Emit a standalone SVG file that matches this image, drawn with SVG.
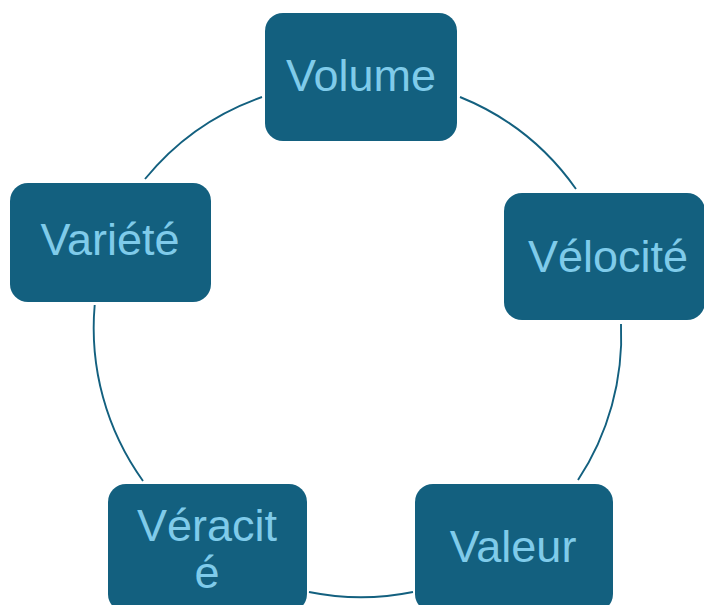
<svg xmlns="http://www.w3.org/2000/svg" width="704" height="605" viewBox="0 0 704 605">
  <style>
    .node rect { fill: #13607f; }
    .node text { fill: #7fcbea; font-family: "Liberation Sans", Arial, sans-serif; font-size: 45px; text-anchor: middle; }
    .ring path { fill: none; stroke: #13607f; stroke-width: 1.9; }
  </style>
  <rect width="704" height="605" fill="#ffffff"/>

  <!-- cycle ring segments between the nodes -->
  <g id="connectors" class="ring">
    <path d="M460,97 A262,262 0 0 1 576,189"/>
    <path d="M621,324 A262,262 0 0 1 578,480"/>
    <path d="M413,592 A262,262 0 0 1 309,592"/>
    <path d="M143,481 A262,262 0 0 1 94.7,305"/>
    <path d="M145,179 A262,262 0 0 1 262,97"/>
  </g>

  <g id="volume" class="node">
    <rect x="265" y="13" width="192" height="128" rx="18"/>
    <text x="361" y="91">Volume</text>
  </g>

  <g id="velocite" class="node">
    <rect x="504" y="193" width="201" height="127" rx="18"/>
    <text x="608" y="272">Vélocité</text>
  </g>

  <g id="valeur" class="node">
    <rect x="415" y="484" width="198" height="128" rx="18"/>
    <text x="513" y="562">Valeur</text>
  </g>

  <g id="veracite" class="node">
    <rect x="108" y="484" width="199" height="128" rx="18"/>
    <text x="207" y="541">Véracit</text>
    <text x="207" y="588">é</text>
  </g>

  <g id="variete" class="node">
    <rect x="10" y="183" width="201" height="119" rx="18"/>
    <text x="110" y="255">Variété</text>
  </g>
</svg>
